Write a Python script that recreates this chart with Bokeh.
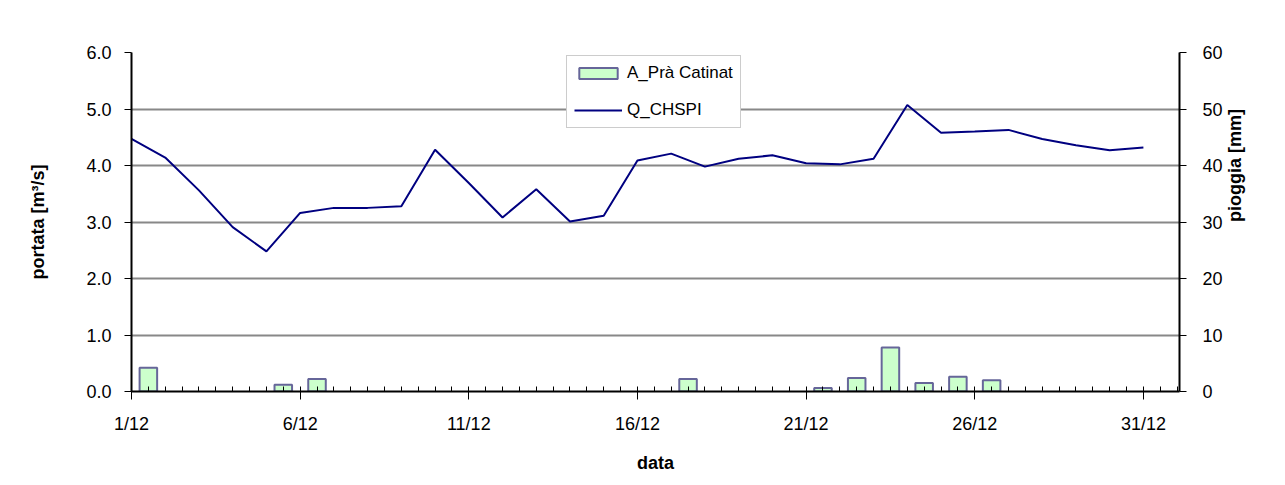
import math
from bokeh.plotting import figure
from bokeh.models import (Range1d, LinearAxis, FixedTicker, Legend, LegendItem,
                          NumeralTickFormatter)
from bokeh.embed import file_html
from bokeh.resources import INLINE

# ---- data ----
days = list(range(1, 32))
q_chspi = [4.47, 4.14, 3.56, 2.91, 2.48, 3.16, 3.25, 3.25, 3.28, 4.28,
           3.69, 3.08, 3.58, 3.01, 3.11, 4.09, 4.21, 3.98, 4.12, 4.18,
           4.04, 4.02, 4.12, 5.07, 4.58, 4.60, 4.63, 4.47, 4.36, 4.27, 4.32]
rain_pra_catinat = [4.2, 0, 0, 0, 1.2, 2.2, 0, 0, 0, 0,
                    0, 0, 0, 0, 0, 0, 2.2, 0, 0, 0,
                    0.6, 2.4, 7.8, 1.5, 2.6, 2.0, 0, 0, 0, 0, 0]
x_tick_days = [1, 6, 11, 16, 21, 26, 31]
x_tick_labels = ["1/12", "6/12", "11/12", "16/12", "21/12", "26/12", "31/12"]
left_ticks = [0, 1, 2, 3, 4, 5, 6]
right_ticks = [0, 10, 20, 30, 40, 50, 60]

FONT = "Liberation Sans"

W, H = 1280, 480
p = figure(width=W, height=H, output_backend="svg", toolbar_location=None,
           x_range=Range1d(1, 32.07), y_range=Range1d(0, 6),
           min_border_left=131, min_border_right=W - 1179, min_border_top=52,
           min_border_bottom=H - 391,
           styles={"outline": "1px solid #dcbcbc", "outline-offset": "-9px"})
p.outline_line_color = None
p.background_fill_color = "white"
p.border_fill_color = "white"
p.xgrid.grid_line_color = None
p.ygrid.grid_line_color = "#888888"
p.ygrid.grid_line_width = 2
p.ygrid.ticker = FixedTicker(ticks=left_ticks)

p.extra_y_ranges = {"rain": Range1d(0, 60)}

# bars (rain) on secondary axis
bx = [d + 0.5 for d, r in zip(days, rain_pra_catinat) if r > 0]
by = [r for r in rain_pra_catinat if r > 0]
bars = p.vbar(x=bx, top=by, bottom=0, width=0.52, y_range_name="rain",
              fill_color="#CCFFCC", line_color="#666699", line_width=2)

# line (discharge)
line = p.line(days, q_chspi, line_color="#000080", line_width=2)

# x axis
xa = p.xaxis[0]
xa.ticker = FixedTicker(ticks=x_tick_days,
                        minor_ticks=[1 + 0.5 * i for i in range(63)])
xa.major_label_overrides = {d: l for d, l in zip(x_tick_days, x_tick_labels)}
xa.axis_label = "data"

# left axis
ya = p.yaxis[0]
ya.ticker = FixedTicker(ticks=left_ticks)
ya.formatter = NumeralTickFormatter(format="0.0")
ya.axis_label = "portata [m³/s]"
ya.minor_tick_line_color = None

# right axis
ra = LinearAxis(y_range_name="rain", axis_label="pioggia [mm]")
ra.ticker = FixedTicker(ticks=right_ticks)
ra.minor_tick_line_color = None
ra.axis_label_orientation = math.pi / 2
p.add_layout(ra, "right")

for ax in (xa, ya, ra):
    ax.axis_line_color = "black"
    ax.axis_line_width = 2
    ax.major_tick_line_color = "black"
    ax.major_tick_line_width = 1
    ax.major_tick_out = 7
    ax.major_tick_in = 0
    ax.major_label_text_font = FONT
    ax.major_label_text_font_size = "18px"
    ax.major_label_text_color = "black"
    ax.axis_label_text_font = FONT
    ax.axis_label_text_font_size = "18px"
    ax.axis_label_text_font_style = "bold"
    ax.axis_label_text_color = "black"

xa.minor_tick_line_color = "black"
xa.minor_tick_in = 5
xa.minor_tick_out = 0
xa.major_tick_out = 8
xa.major_label_standoff = 14
xa.axis_label_standoff = 16
ya.major_label_standoff = 13
ya.axis_label_standoff = 35
ra.major_label_standoff = 16
ra.axis_label_standoff = 9

legend = Legend(items=[LegendItem(label="A_Prà Catinat", renderers=[bars]),
                       LegendItem(label="Q_CHSPI", renderers=[line])],
                location=(435, 263))
legend.label_text_font = FONT
legend.label_text_font_size = "17px"
legend.label_text_color = "black"
legend.glyph_width = 48
legend.glyph_height = 14
legend.label_height = 20
legend.label_standoff = 5
legend.spacing = 17
legend.padding = 7
legend.margin = 0
legend.border_line_color = "#999999"
legend.border_line_width = 1
legend.background_fill_color = "white"
legend.background_fill_alpha = 1
p.add_layout(legend, "center")

open("out.html", "w").write(file_html(p, INLINE))
